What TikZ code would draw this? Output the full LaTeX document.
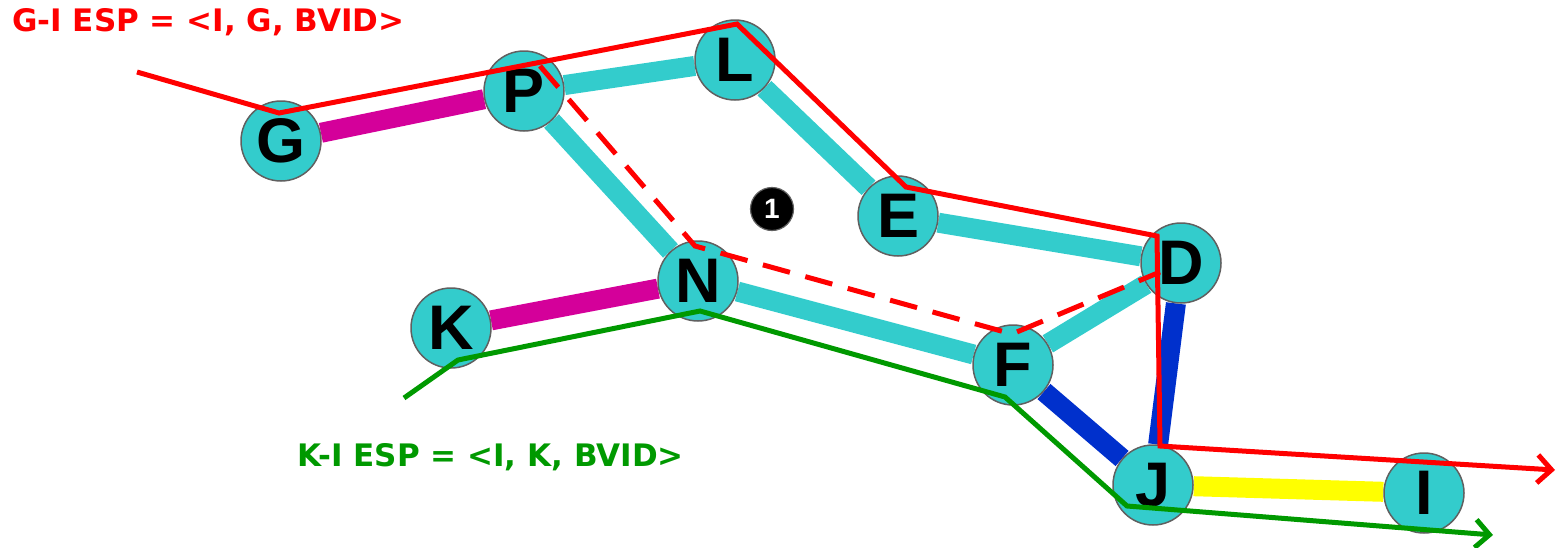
\documentclass[tikz,border=0pt]{standalone}
\usepackage{fontspec}
\setmainfont{Liberation Sans}
\newfontfamily\labelfont{DejaVu Sans}
\usetikzlibrary{arrows.meta,backgrounds}
\definecolor{linkcyan}{HTML}{33CCCC}
\definecolor{linkmag}{HTML}{D4009A}
\definecolor{linkblue}{HTML}{0030CC}
\definecolor{linkyellow}{HTML}{FFFF00}
\definecolor{espred}{HTML}{FF0000}
\definecolor{espgreen}{HTML}{009900}
\definecolor{rimgrey}{HTML}{606060}
\tikzset{
  bridge/.style={circle, draw=rimgrey, line width=1.5pt, fill=linkcyan,
    minimum size=80pt, inner sep=0pt,
    font=\fontsize{63}{63}\selectfont\bfseries},
  link/.style={line width=20pt},
  esp/.style={line width=5pt, line join=miter},
  esptip/.style={-{Straight Barb[length=14pt,width=28pt,line width=5pt]}},
  esplabel/.style={font=\labelfont\fontsize{31}{31}\selectfont\bfseries, inner sep=0pt},
  badge/.style={circle, fill=black, draw=rimgrey, line width=1.2pt,
    minimum size=43pt, inner sep=0pt, text=white,
    font=\fontsize{28}{28}\selectfont\bfseries}
}
\begin{document}
\begin{tikzpicture}[x=1pt,y=-1pt]
\useasboundingbox (0,0) rectangle (1558,547);

% bridges
\path
  node[bridge] (G) at (281,141) {G}
  node[bridge] (P) at (524,91)  {P}
  node[bridge] (L) at (735,60)  {L}
  node[bridge] (E) at (898,216) {E}
  node[bridge] (N) at (698,281) {N}
  node[bridge] (D) at (1181,263) {D}
  node[bridge] (K) at (451,328) {K}
  node[bridge] (F) at (1013,365) {F}
  node[bridge] (J) at (1153,485) {J}
  node[bridge] (I) at (1424,493) {I};

% links between bridges, underneath them
\begin{scope}[on background layer]
  \draw[link, linkmag] (G) -- (P);
  \draw[link, linkmag] (K) -- (N);
  \draw[link, linkcyan] (P) -- (L);
  \draw[link, linkcyan] (P) -- (N);
  \draw[link, linkcyan] (L) -- (E);
  \draw[link, linkcyan] (E) -- (D);
  \draw[link, linkcyan] (N) -- (F);
  \draw[link, linkcyan] (F) -- (D);
  \draw[link, linkblue] (F) -- (J);
  \draw[link, linkblue] (D) -- (J);
  \draw[link, linkyellow] (J) -- (I);
\end{scope}

% badge
\node[badge] (one) at (772,209) {1};

% G-I path
\coordinate (r0) at (137,72);
\coordinate (r1) at (279,113);
\coordinate (r2) at (737,24);
\coordinate (r3) at (906,187);
\coordinate (r4) at (1157,236);
\coordinate (r5) at (1160,446);
\coordinate (r6) at (1555,470);
\draw[esp, espred, esptip] (r0) -- (r1) -- (r2) -- (r3) -- (r4) -- (r5) -- (r6);

% dashed backup path
\coordinate (d0) at (540,66);
\coordinate (d1) at (695,246);
\coordinate (d2) at (1012,334);
\coordinate (d3) at (1160,272);
\draw[esp, espred, dash pattern=on 28pt off 16pt] (d0) -- (d1) -- (d2) -- (d3);

% K-I path
\coordinate (g0) at (404,398);
\coordinate (g1) at (458,360);
\coordinate (g2) at (700,311);
\coordinate (g3) at (1005,397);
\coordinate (g4) at (1127,506);
\coordinate (g5) at (1493,535);
\draw[esp, espgreen, esptip] (g0) -- (g1) -- (g2) -- (g3) -- (g4) -- (g5);

% labels
\node[esplabel, text=espred, anchor=west] (lred) at (12,22) {G-I ESP = <I, G, BVID>};
\node[esplabel, text=espgreen, anchor=west] (lgreen) at (297,457) {K-I ESP = <I, K, BVID>};

\end{tikzpicture}
\end{document}
